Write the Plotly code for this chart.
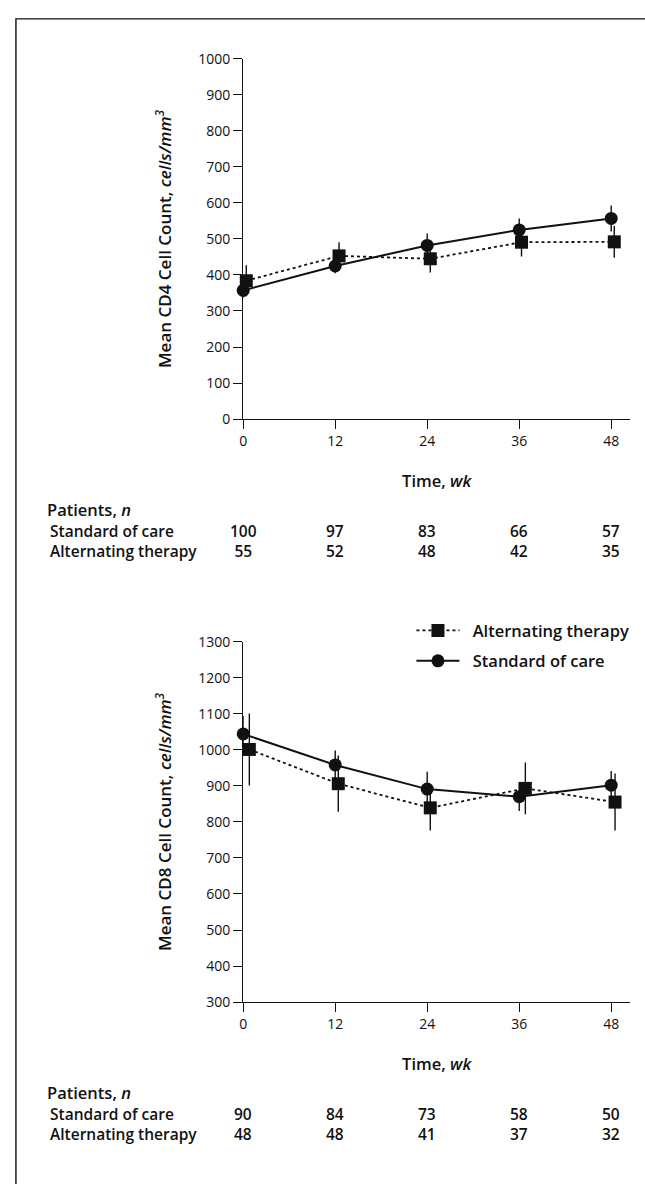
import plotly.graph_objects as go

# ---------------- data ----------------
weeks = [0, 12, 24, 36, 48]
week_labels = ["0", "12", "24", "36", "48"]
row_labels = ["Standard of care", "Alternating therapy"]

# CD4 panel
cd4_soc_x = [0, 12, 24, 36, 48]
cd4_soc = [357, 425, 482, 525, 557]
cd4_soc_err = [20, 20, 33, 32, 36]
cd4_alt_x = [0.4, 12.5, 24.4, 36.3, 48.4]
cd4_alt = [384, 453, 445, 491, 492]
cd4_alt_err = [43, 38, 38, 40, 44]
cd4_n_soc = [100, 97, 83, 66, 57]
cd4_n_alt = [55, 52, 48, 42, 35]

# CD8 panel
cd8_soc_x = [0, 12, 24, 36, 48]
cd8_soc = [1044, 958, 891, 870, 902]
cd8_soc_err = [50, 40, 48, 40, 39]
cd8_alt_x = [0.8, 12.4, 24.4, 36.8, 48.5]
cd8_alt = [1001, 906, 839, 893, 855]
cd8_alt_err = [100, 78, 63, 72, 79]
cd8_n_soc = [90, 84, 73, 58, 50]
cd8_n_alt = [48, 48, 41, 37, 32]

# ---------------- layout helpers ----------------
W, H = 645, 1184
FONT = "Open Sans"
INK = "#111111"


def px(x):
    return x / W


def py(y):
    return 1 - y / H


fig = go.Figure()


def add_series(xs, ys, errs, xa, ya, symbol, dash, name, legend):
    # error bars (no caps)
    fig.add_trace(go.Scatter(
        x=xs, y=ys, mode="markers", xaxis=xa, yaxis=ya,
        marker=dict(size=1, color="rgba(0,0,0,0)"),
        error_y=dict(type="data", array=errs, visible=True, width=0,
                     thickness=1.4, color=INK),
        showlegend=False, hoverinfo="skip", cliponaxis=False))
    fig.add_trace(go.Scatter(
        x=xs, y=ys, mode="lines+markers", xaxis=xa, yaxis=ya,
        name="\u2002" + name, legendgroup=name,
        line=dict(color=INK, width=2 if dash == "solid" else 1.8, dash=dash),
        marker=dict(symbol=symbol, size=13, color=INK),
        showlegend=legend, cliponaxis=False,
        legendrank=1 if symbol == "square" else 2))


add_series(cd4_alt_x, cd4_alt, cd4_alt_err, "x", "y", "square", "dot", "Alternating therapy", False)
add_series(cd4_soc_x, cd4_soc, cd4_soc_err, "x", "y", "circle", "solid", "Standard of care", False)
add_series(cd8_alt_x, cd8_alt, cd8_alt_err, "x2", "y2", "square", "dot", "Alternating therapy", True)
add_series(cd8_soc_x, cd8_soc, cd8_soc_err, "x2", "y2", "circle", "solid", "Standard of care", True)

x_left, x_right = 240.7, 630.0
wk_per_px = 48 / (611.0 - 240.7)
x_max = (x_right - x_left) * wk_per_px

axis_common = dict(showline=True, linecolor=INK, linewidth=1.4, ticks="outside",
                   ticklen=9, tickwidth=1.4, tickcolor=INK, showgrid=False,
                   zeroline=False, tickfont=dict(family=FONT, size=14, color=INK))

top_axis_px, top_top_px = 415.7, 49.7
bot_axis_px, bot_top_px = 1008.3, 642.0

SEMI = 16.5
TABLE = 15.5
semi = dict(family=FONT, size=SEMI, color=INK, weight=600)
tabf = dict(family=FONT, size=TABLE, color=INK, weight=600)
ytf = dict(family=FONT, size=17, color=INK, weight=600)

xtitle = dict(text="Time, <i>wk</i>", font=semi, standoff=26)

fig.update_layout(
    width=W, height=H,
    margin=dict(l=0, r=0, t=0, b=0),
    paper_bgcolor="white", plot_bgcolor="white",
    font=dict(family=FONT, color=INK),
    xaxis=dict(domain=[px(x_left), px(x_right)], range=[0, x_max], anchor="y",
               tickvals=weeks, ticktext=week_labels, title=xtitle, **axis_common),
    yaxis=dict(domain=[py(top_axis_px), py(top_top_px)], range=[0, 1000], anchor="x",
               dtick=100, tick0=0, **axis_common,
               title=dict(text="Mean CD4 Cell Count, <i>cells/mm<sup>3</sup></i>",
                          font=ytf, standoff=22)),
    xaxis2=dict(domain=[px(x_left), px(x_right)], range=[0, x_max], anchor="y2",
                tickvals=weeks, ticktext=week_labels, title=xtitle, **axis_common),
    yaxis2=dict(domain=[py(bot_axis_px), py(bot_top_px)], range=[300, 1300], anchor="x2",
                dtick=100, tick0=300, **axis_common,
                title=dict(text="Mean CD8 Cell Count, <i>cells/mm<sup>3</sup></i>",
                           font=ytf, standoff=22)),
    legend=dict(x=px(410), y=py(613), xanchor="left", yanchor="top",
                bgcolor="rgba(0,0,0,0)", borderwidth=0, itemwidth=43,
                traceorder="grouped", tracegroupgap=6, font=semi),
    showlegend=True,
)

# frame
fig.add_shape(type="rect", xref="paper", yref="paper",
              x0=px(12), x1=1.05, y0=-0.05, y1=py(9),
              line=dict(color=INK, width=1.4), fillcolor="rgba(0,0,0,0)", layer="below")

ann = []
for axis_px, xa, n_soc, n_alt in [
    (top_axis_px, "x", cd4_n_soc, cd4_n_alt),
    (bot_axis_px, "x2", cd8_n_soc, cd8_n_alt),
]:
    ann.append(dict(text="Patients, <i>n</i>", xref="paper", yref="paper",
                    x=px(41), y=py(axis_px + 92), showarrow=False,
                    xanchor="left", yanchor="middle", font=semi))
    rows_mid = py(axis_px + 124)
    ann.append(dict(text="<br>".join(row_labels), xref="paper", yref="paper",
                    x=px(44), y=rows_mid, showarrow=False, align="left",
                    xanchor="left", yanchor="middle", font=tabf))
    for wk, a, b in zip(weeks, n_soc, n_alt):
        ann.append(dict(text=f"{a}<br>{b}", xref=xa, yref="paper", x=wk,
                        y=rows_mid, showarrow=False, align="center",
                        xanchor="center", yanchor="middle", font=tabf))

fig.update_layout(annotations=ann)

fig.write_html("out.html", config={"displayModeBar": False},
               post_script="document.body.style.margin='0';document.body.style.overflow='hidden';")
